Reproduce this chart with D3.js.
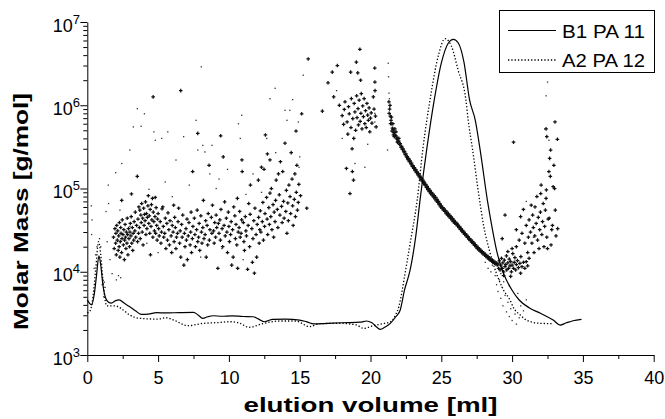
<!DOCTYPE html>
<html>
<head>
<meta charset="utf-8">
<script src="https://cdn.jsdelivr.net/npm/d3@7/dist/d3.min.js"></script>
<style>
  body { margin: 0; background: #fff; }
  svg { display: block; font-family: "Liberation Sans", Arial, sans-serif; }
  .axis path, .axis line { stroke: #000; stroke-width: 1; }
  .axis text { font-size: 18px; fill: #000; }
</style>
</head>
<body>
<svg id="chart" width="665" height="419"></svg>
<script>
// elution volume [ml] vs molar mass [g/mol]
var xMajor = [0, 5, 10, 15, 20, 25, 30, 35, 40];
var xMinor = [2.5, 7.5, 12.5, 17.5, 22.5, 27.5, 32.5, 37.5];
var yMajor = [1e3, 1e4, 1e5, 1e6, 1e7];
var seriesNames = ["B1 PA 11", "A2 PA 12"];

// detector trace, B1 PA 11 (solid)
var b1Line = [[0,4600],[0.15,4200],[0.3,4000],[0.5,5500],[0.65,9000],[0.82,15500],[0.95,12000],[1.1,7000],
  [1.3,4800],[1.5,4300],[1.7,4200],[2.0,4500],[2.25,4600],[2.6,4200],[3.0,3800],[3.4,3400],[3.8,3080],
  [4.3,3100],[4.9,3220],[5.5,3200],[6.5,3230],[7.5,3250],[7.8,3050],[8.15,2760],[8.5,2880],[8.9,2960],
  [9.5,2920],[10.2,2950],[11,2900],[11.7,2880],[12.1,2700],[12.5,2510],[13.1,2680],[14,2700],[15,2630],
  [15.5,2500],[16,2360],[17,2400],[18,2440],[19.3,2480],[19.7,2560],[20.1,2440],[20.45,2150],[20.7,2030],
  [21.0,2150],[21.4,2400],[21.8,2900],[22.1,3470],[22.4,6000],[22.8,10500],[23.2,27000],[23.5,73000],
  [24.0,320000],[24.5,1.15e6],[25.0,3.2e6],[25.5,5.6e6],[25.85,6.2e6],[26.2,5.6e6],[26.6,3.3e6],
  [27.0,1.15e6],[27.4,6.6e5],[27.8,2.5e5],[28.25,7.3e4],[28.6,3.3e4],[28.9,1.82e4],[29.3,1.05e4],
  [29.6,7960],[30.0,6000],[30.5,4580],[31.2,3700],[32.0,3170],[32.9,2630],[33.4,2290],[33.8,2420],
  [34.3,2580],[34.9,2680]];

// detector trace, A2 PA 12 (dotted)
var a2Line = [[0,3200],[0.2,3400],[0.4,5000],[0.6,11000],[0.8,23000],[0.95,16000],[1.1,8000],[1.37,3900],
  [1.7,3900],[2.1,3850],[2.5,3500],[3.0,3020],[3.7,2760],[4.9,2700],[5.6,2800],[6.1,2630],[7.1,2250],
  [8.2,2400],[9.2,2450],[10.1,2510],[10.8,2400],[11.4,2150],[12.4,2380],[13.6,2560],[14.7,2560],
  [15.7,2190],[16.4,2380],[17.8,2400],[19.0,2300],[19.5,2090],[20.2,2250],[21.0,2400],[21.4,2500],
  [21.8,3100],[22.0,3800],[22.2,5500],[22.4,8700],[22.8,2.2e4],[23.3,7.3e4],[23.7,3e5],[24.2,1.15e6],
  [24.8,4.0e6],[25.26,6.3e6],[25.7,5.2e6],[26.2,2.6e6],[26.74,1.15e6],[26.9,6.6e5],[27.2,3e5],
  [27.7,7.3e4],[28.0,3.5e4],[28.4,1.8e4],[28.9,9500],[29.4,6000],[29.85,4580],[30.1,3700],[30.6,3000],
  [31.0,2630],[32.0,2400],[32.9,2380]];

// molar mass points (crosses), low elution region
var massCloud = [[1.85,2.6e4],[1.9,1.9e4],[1.95,3.3e4],[2.0,2.2e4],[2.02,2.9e4],[2.05,1.6e4],[2.08,3.6e4],
  [2.12,2.4e4],[2.15,3.1e4],[2.18,1.8e4],[2.22,2.7e4],[2.25,2.0e4],[2.27,3.9e4],[2.3,1.5e4],[2.33,2.3e4],
  [2.36,3.4e4],[2.38,2.9e4],[2.42,1.7e4],[2.45,2.5e4],[2.47,4.2e4],[2.43,7.2e4],[2.52,2.8e4],[2.55,2.1e4],
  [2.58,3.2e4],[2.62,1.4e4],[2.64,2.4e4],[2.67,3.7e4],[2.7,2.6e4],[2.73,1.9e4],[2.76,3.0e4],[2.8,2.2e4],
  [2.82,4.4e4],[2.85,2.8e4],[2.87,1.6e4],[2.91,3.3e4],[2.94,2.5e4],[2.98,2.0e4],[3.01,3.0e4],[3.04,3.8e4],
  [3.08,2.7e4],[3.1,4.6e4],[3.12,8.6e4],[3.14,2.2e4],[3.18,3.4e4],[3.21,1.8e4],[3.24,2.9e4],[3.28,2.4e4],
  [3.31,4.0e4],[3.36,3.1e4],[3.39,5.2e4],[3.42,2.6e4],[3.48,3.6e4],[3.53,1.4e5],[3.55,2.3e4],[3.58,4.3e4],
  [3.62,2.9e4],[3.64,6.0e4],[3.68,3.4e4],[3.71,5.5e4],[3.74,2.5e4],[3.78,4.8e4],[3.81,3.9e4],[3.84,6.6e4],
  [3.88,3.0e4],[3.91,4.4e4],[3.94,2.1e4],[3.98,5.8e4],[4.01,3.6e4],[4.04,4.9e4],[4.08,4.1e4],[4.11,6.9e4],
  [4.14,2.8e4],[4.18,5.0e4],[4.21,3.3e4],[4.24,4.5e4],[4.28,6.2e4],[4.31,8.2e4],[4.34,3.8e4],[4.38,4.7e4],
  [4.41,2.9e4],[4.44,5.6e4],[4.46,1.6e4],[4.5,3.5e4],[4.53,6.4e4],[4.56,4.2e4],[4.6,7.6e4],[4.63,2.6e4],
  [4.66,5.2e4],[4.7,4.0e4],[4.74,3.1e4],[4.78,4.6e4],[4.8,7.8e4],[4.83,2.9e4],[4.86,5.9e4],[4.9,3.6e4],
  [4.93,2.4e4],[4.96,4.3e4],[5.0,5.0e4],[5.04,3.3e4],[5.08,2.7e4],[5.15,4.0e4],[5.2,2.2e4],[5.24,3.0e4],
  [5.28,5.7e4],[5.33,6.0e4],[5.37,3.5e4],[5.4,2.6e4],[5.47,2.9e4],[5.51,4.4e4],[5.55,1.9e4],[5.62,3.8e4],
  [5.66,2.4e4],[5.7,5.1e4],[5.76,3.2e4],[5.8,2.1e4],[5.84,4.1e4],[5.92,2.7e4],[5.96,1.7e4],[6.0,3.6e4],
  [6.06,3.0e4],[6.1,6.3e4],[6.13,2.3e4],[6.17,4.5e4],[6.22,3.4e4],[6.26,1.9e4],[6.3,2.6e4],[6.37,2.9e4],
  [6.41,4.0e4],[6.45,5.8e4],[6.52,2.2e4],[6.56,3.1e4],[6.6,1.5e4],[6.66,3.7e4],[6.7,2.6e4],[6.74,4.8e4],
  [6.82,1.2e4],[6.86,2.9e4],[6.9,2.0e4],[6.97,3.3e4],[7.0,2.4e4],[7.04,4.3e4],[7.07,1.4e4],[7.13,2.7e4],
  [7.18,3.9e4],[7.26,2.1e4],[7.3,3.0e4],[7.33,5.2e4],[7.36,1.7e4],[7.42,2.5e4],[7.46,3.5e4],[7.44,1.6e5],
  [7.56,4.4e4],[7.6,2.8e4],[7.64,2.0e4],[7.72,3.2e4],[7.76,5.5e4],[7.8,2.3e4],[7.86,2.6e4],[7.9,3.8e4],
  [7.94,1.8e4],[8.02,4.7e4],[8.06,3.0e4],[8.1,2.2e4],[8.16,3.4e4],[8.2,7.2e4],[8.24,2.5e4],[8.32,2.8e4],
  [8.36,4.1e4],[8.4,1.5e4],[8.46,3.6e4],[8.5,2.1e4],[8.54,5.0e4],[8.62,2.4e4],[8.66,3.2e4],[8.6,1.9e5],
  [8.76,4.5e4],[8.8,2.9e4],[8.84,6.3e4],[8.92,3.1e4],[8.96,2.2e4],[9.0,3.9e4],[9.06,2.6e4],[9.1,4.8e4],
  [9.14,3.4e4],[9.22,1.1e4],[9.26,3.8e4],[9.3,2.9e4],[9.36,4.2e4],[9.4,2.4e4],[9.44,5.6e4],[9.52,3.3e4],
  [9.56,2.0e4],[9.6,2.4e5],[9.66,3.6e4],[9.7,6.9e4],[9.74,2.7e4],[9.82,4.4e4],[9.86,3.0e4],[9.9,1.7e4],
  [9.96,5.2e4],[10.0,3.5e4],[10.04,2.3e4],[10.12,2.8e4],[10.16,4.0e4],[10.2,1.2e4],[10.26,3.2e4],
  [10.3,1.5e4],[10.34,6.0e4],[10.42,4.7e4],[10.46,2.5e4],[10.5,3.7e4],[10.56,2.1e4],[10.6,7.6e4],
  [10.62,1.1e4],[10.66,3.0e4],[10.72,3.4e4],[10.76,5.3e4],[10.8,2.6e4],[10.86,2.9e4],[10.9,4.2e4],
  [10.92,2.2e5],[10.94,1.6e5],[11.02,3.9e4],[11.06,2.3e4],[11.1,1.8e4],[11.16,4.6e4],[11.2,3.1e4],
  [11.24,2.7e4],[11.32,1.07e4],[11.36,3.6e4],[11.4,6.6e4],[11.46,2.0e4],[11.5,4.9e4],[11.52,1.1e5],
  [11.62,3.3e4],[11.66,1.3e4],[11.7,2.5e4],[11.76,4.1e4],[11.8,9.6e3],[11.84,5.8e4],[11.92,2.8e4],
  [11.96,1.5e4],[12.0,3.7e4],[12.08,1.26e5],[12.1,4.5e4],[12.14,2.2e4],[12.18,3.2e4],[12.22,5.4e4],
  [12.26,3.0e4],[12.3,1.8e5],[12.36,4.0e4],[12.4,6.8e4],[12.44,2.4e4],[12.48,1.7e5],[12.52,3.5e4],
  [12.55,5.0e4],[12.58,4.4e5],[12.66,7.8e4],[12.7,4.3e4],[12.74,2.8e4],[12.72,2.6e5],[12.82,5.9e4],
  [12.86,3.7e4],[12.9,8.8e4],[12.96,4.6e4],[13.0,1.0e5],[13.04,3.2e4],[13.12,6.4e4],[13.16,2.6e4],
  [13.2,5.2e4],[13.26,4.0e4],[13.3,7.2e4],[13.34,1.26e5],[13.42,5.6e4],[13.46,3.4e4],[13.5,1.5e5],
  [13.56,8.4e4],[13.6,4.8e4],[13.64,2.1e5],[13.72,6.1e4],[13.76,3.9e4],[13.8,1.6e5],[13.86,7.0e4],
  [13.9,4.4e4],[13.96,3.5e5],[14.02,5.3e4],[14.06,9.5e4],[14.1,2.9e4],[14.16,6.7e4],[14.2,4.1e4],
  [14.24,1.1e5],[14.32,8.0e4],[14.36,5.0e4],[14.4,2.7e5],[14.46,1.3e5],[14.5,6.2e4],[14.54,3.6e4],
  [14.62,7.4e4],[14.66,1.5e5],[14.7,4.6e4],[14.76,9.0e4],[14.8,1.9e5],[14.84,5.5e4],[14.9,6.8e4],
  [14.94,1.12e5],[14.74,4.9e5],[15.06,8.2e4],[15.14,7.9e5],[15.5,5.8e4],[15.6,3.6e6],
  [4.65,1.26e6],[6.6,1.5e6],[9.42,4.3e5],[7.8,4.6e5],[12.9,2.2e5]];

// crosses, 16.5 - 20.5 ml
var massCluster = [[16.6,8.5e5],[17.0,1.86e6],[17.3,2.5e6],[17.4,1.26e6],[17.66,3.0e6],[17.8,1.0e6],
  [18.0,7.5e5],[18.1,5.9e5],[18.15,8.9e5],[18.2,1.1e6],[18.3,1.74e5],[18.35,6.3e5],[18.4,4.5e5],
  [18.45,9.6e5],[18.5,7.9e5],[18.55,8.7e4],[18.6,2.5e6],[18.62,5.4e5],[18.65,1.2e6],[18.7,3.0e5],
  [18.72,1.6e5],[18.75,6.9e5],[18.8,1.26e5],[18.82,4.0e5],[18.85,1.05e6],[18.9,8.3e5],[18.95,5.0e5],
  [19.0,3.3e6],[19.02,1.3e6],[19.05,7.1e5],[19.1,2.45e6],[19.12,9.1e5],[19.15,5.8e5],[19.2,1.15e6],
  [19.25,4.7e6],[19.27,6.4e5],[19.3,2.0e6],[19.32,8.0e5],[19.35,1.38e6],[19.4,5.2e5],[19.45,9.8e5],
  [19.5,7.3e5],[19.55,1.2e6],[19.6,6.0e5],[19.65,8.6e5],[19.7,5.4e5],[19.75,1.05e6],[19.8,7.6e5],
  [19.85,6.6e5],[19.9,9.3e5],[19.95,4.8e5],[20.0,7.0e5],[20.05,8.1e5],[20.1,6.1e5],[20.2,1.26e6],
  [20.25,9.0e5],[20.3,2.8e6],[20.31,1.9e6],[20.32,1.5e6],[20.35,7.4e5],[20.4,5.5e5]];

// crosses, main calibration band 21.3 - 29 ml
var massBand = [[21.3,1.1e6],[21.32,8.0e5],[21.38,1.0e6],[21.42,6.0e5],[21.48,7.2e5],[21.52,4.9e5],
  [21.58,6.0e5],[21.62,4.4e5],[21.72,5.2e5],[21.68,4.2e5],[21.8,4.8e5],[21.9,3.6e5],[22.0,4.0e5],
  [21.35,9.0e5],[21.4,7.4e5],[21.45,6.6e5],[21.5,6.0e5],[21.55,5.3e5],[21.6,5.1e5],[21.65,4.7e5],
  [21.7,4.7e5],[21.75,4.3e5],[21.8,4.3e5],[21.85,3.95e5],[21.9,4.0e5],[21.95,3.65e5],[22.0,3.7e5],
  [22.05,3.4e5],[22.1,3.45e5],[22.15,3.15e5],[22.2,3.2e5],[22.25,2.95e5],[22.3,3.0e5],[22.35,2.75e5],
  [22.4,2.8e5],[22.45,2.55e5],[22.5,2.6e5],[22.55,2.38e5],[22.6,2.42e5],[22.65,2.22e5],[22.7,2.28e5],
  [22.75,2.1e5],[22.8,2.15e5],[22.85,1.97e5],[22.9,2.02e5],[22.95,1.85e5],[23.0,1.88e5],[23.05,1.74e5],
  [23.1,1.78e5],[23.15,1.64e5],[23.2,1.68e5],[23.25,1.55e5],[23.3,1.58e5],[23.35,1.46e5],[23.4,1.5e5],
  [23.45,1.38e5],[23.5,1.41e5],[23.55,1.3e5],[23.6,1.33e5],[23.65,1.23e5],[23.7,1.26e5],[23.75,1.16e5],
  [23.8,1.19e5],[23.85,1.1e5],[23.9,1.12e5],[23.95,1.03e5],[24.0,1.06e5],[24.05,9.7e4],[24.1,1.0e5],
  [24.15,9.2e4],[24.2,9.5e4],[24.25,8.7e4],[24.3,9.0e4],[24.35,8.3e4],[24.4,8.6e4],[24.45,7.9e4],
  [24.5,8.2e4],[24.55,7.5e4],[24.6,7.8e4],[24.65,7.1e4],[24.7,7.4e4],[24.75,6.8e4],[24.8,7.0e4],
  [24.85,6.4e4],[24.9,6.6e4],[24.95,6.0e4],[25.0,6.2e4],[25.05,5.8e4],[25.1,5.9e4],[25.15,5.5e4],
  [25.2,5.7e4],[25.25,5.3e4],[25.3,5.4e4],[25.35,5.0e4],[25.4,5.2e4],[25.45,4.8e4],[25.5,4.95e4],
  [25.55,4.6e4],[25.6,4.75e4],[25.65,4.4e4],[25.7,4.55e4],[25.75,4.2e4],[25.8,4.35e4],[25.85,4.0e4],
  [25.9,4.15e4],[25.95,3.85e4],[26.0,3.95e4],[26.05,3.7e4],[26.1,3.8e4],[26.15,3.55e4],[26.2,3.62e4],
  [26.25,3.38e4],[26.3,3.45e4],[26.35,3.22e4],[26.4,3.3e4],[26.45,3.08e4],[26.5,3.15e4],[26.55,2.95e4],
  [26.6,3.0e4],[26.65,2.82e4],[26.7,2.88e4],[26.75,2.7e4],[26.8,2.75e4],[26.85,2.58e4],[26.9,2.62e4],
  [26.95,2.46e4],[27.0,2.5e4],[27.05,2.36e4],[27.1,2.4e4],[27.15,2.27e4],[27.2,2.32e4],[27.25,2.18e4],
  [27.3,2.22e4],[27.35,2.08e4],[27.4,2.12e4],[27.45,1.99e4],[27.5,2.03e4],[27.55,1.9e4],[27.6,1.95e4],
  [27.65,1.83e4],[27.7,1.88e4],[27.75,1.77e4],[27.8,1.8e4],[27.85,1.7e4],[27.9,1.74e4],[27.95,1.64e4],
  [28.0,1.68e4],[28.05,1.59e4],[28.1,1.62e4],[28.15,1.53e4],[28.2,1.57e4],[28.25,1.48e4],[28.3,1.52e4],
  [28.35,1.43e4],[28.4,1.46e4],[28.45,1.38e4],[28.5,1.42e4],[28.55,1.34e4],[28.6,1.38e4],[28.65,1.3e4],
  [28.7,1.34e4],[28.75,1.27e4],[28.8,1.3e4],[28.85,1.24e4],[28.9,1.27e4],[28.95,1.21e4],[29.0,1.24e4]];

// crosses, high elution tail 29 - 33.3 ml
var massTail = [[29.05,1.1e4],[29.1,1.35e4],[29.15,1.05e4],[29.2,1.2e4],[29.25,1.45e4],[29.3,1.1e4],
  [29.35,1.28e4],[29.4,1.0e4],[29.45,1.38e4],[29.5,1.15e4],[29.55,1.22e4],[29.6,1.55e4],[29.62,1.05e4],
  [29.7,1.28e4],[29.75,1.1e4],[29.8,1.42e4],[29.85,1.18e4],[29.9,1.32e4],[29.95,1.0e4],[30.0,1.2e4],
  [30.05,1.65e4],[30.1,1.1e4],[30.15,1.3e4],[30.2,1.48e4],[30.25,1.05e4],[30.3,1.22e4],[30.38,1.36e4],
  [30.45,1.12e4],[30.55,1.26e4],[30.62,1.52e4],[30.7,1.15e4],[30.8,1.3e4],[30.9,1.1e4],[31.0,1.32e4],
  [31.1,1.18e4],[31.2,1.45e4],[30.0,1.9e4],[29.7,1.75e4],[30.3,2.0e4],[29.4,9.0e3],[30.6,9.6e3],
  [29.9,8.8e3],[29.3,2.5e4],[29.5,4.8e4],[30.1,3.6e5],[30.3,3.2e4],[30.5,2.4e4],[30.6,4.6e4],
  [30.7,2.9e4],[30.8,5.6e4],[30.9,2.2e4],[31.0,3.6e4],[31.1,1.7e4],[31.15,2.6e4],[31.2,4.2e4],
  [31.3,3.0e4],[31.35,6.3e4],[31.4,2.2e4],[31.45,4.8e4],[31.5,3.4e4],[31.55,1.7e4],[31.6,2.7e4],
  [31.62,6.0e4],[31.7,3.8e4],[31.75,8.0e4],[31.8,2.4e4],[31.85,4.5e4],[31.9,1.9e4],[31.95,3.2e4],
  [32.0,5.2e4],[32.02,8.7e4],[32.05,1.1e5],[32.1,2.8e4],[32.15,4.0e4],[32.2,6.6e4],[32.25,2.0e4],
  [32.3,3.5e4],[32.35,5.5e4],[32.4,7.6e4],[32.42,9.6e4],[32.45,2.6e4],[32.5,1.9e4],[32.55,4.3e4],
  [32.6,1.6e5],[32.62,4.4e4],[32.65,2.3e5],[32.7,1.4e5],[32.72,2.9e5],[32.75,2.1e4],[32.8,3.2e4],
  [32.85,3.6e4],[32.9,1.05e5],[32.95,1.9e5],[33.0,1.0e5],[33.03,6.3e5],[33.05,5.5e4],[33.1,2.7e4],
  [33.2,3.9e5],[33.22,3.3e4],[32.4,5.2e5],[32.45,4.2e5]];

// sparse molar mass points (small dots)
var massDots = [[0.28,6.2e4],[0.33,4.2e4],[0.3,2.8e4],[0.48,1.1e4],[0.58,1.6e4],[0.68,2.0e4],[0.86,2.5e4],
  [0.95,2.0e4],[1.05,7.0e3],[1.15,5.0e3],[1.25,6.5e3],[1.32,5.3e4],[1.4,2.3e4],[1.5,6.6e4],[1.48,1.1e5],
  [1.1,8.0e3],[1.2,7.5e3],[1.6,1.4e4],[1.75,9.5e3],[2.0,1.55e5],[2.05,8.0e3],[2.2,9.0e3],[2.35,8.5e3],
  [2.3,5.5e4],[2.43,2.0e5],[3.0,2.9e5],[3.25,5.5e5],[3.53,9.1e5],[3.8,5.6e5],[4.03,7.9e5],[4.35,9.8e4],
  [4.7,4.8e5],[4.8,3.8e5],[5.25,4.0e5],[5.68,4.8e5],[6.26,2.2e5],[6.8,4.2e5],[7.68,6.6e5],[7.8,2.9e5],
  [8.05,2.9e6],[8.15,3.3e5],[8.3,2.75e5],[8.65,1.5e5],[8.8,3.3e5],[9.1,1.0e5],[9.9,1.7e5],[10.67,6.0e5],
  [10.9,7.6e5],[10.8,4.0e5],[11.2,8.5e4],[12.9,1.2e6],[13.26,1.6e6],[13.96,8.7e5],[14.1,6.6e5],
  [14.3,8.7e5],[14.5,1.17e6],[14.9,6.3e5],[15.0,2.4e5],[14.95,1.8e5],[15.25,2.3e6],[12.67,4.0e5],
  [13.3,2.7e5],[6.0,8.0e4],[7.2,1.1e5],[5.5,1.2e5],[9.3,1.3e5],[11.7,1.5e5],[12.3,9.0e4],[3.0,3.5e4],
  [4.2,2.2e4],[6.0,4.0e4],[8.0,1.5e4],[5.0,1.7e4],[9.5,1.9e4],[11.0,1.4e4],
  [17.6,1.5e6],[18.0,4.0e5],[18.9,2.0e5],[19.6,1.8e5],[19.8,3.4e5],[20.3,8.0e5],[20.3,6.3e5],
  [20.32,5.5e5],[21.25,3.2e6],[21.27,2.2e6],[21.3,1.4e6],[21.33,1.2e6],[21.2,2.9e5],[21.35,9.5e5],
  [28.1,1.3e4],[28.3,1.1e4],[28.5,1.0e4],[28.6,1.2e4],[28.8,9.0e3],[28.9,7.0e3],[29.0,5.8e3],
  [29.1,8.0e3],[29.2,4.8e3],[29.3,6.5e3],[29.35,3.9e3],[29.5,5.2e3],[29.6,3.3e3],[29.7,4.3e3],
  [29.8,2.9e3],[29.9,3.6e3],[30.0,2.6e3],[30.2,3.1e3],[30.3,2.35e3],[30.5,2.8e3],[30.6,3.9e3],
  [30.8,3.4e3],[31.0,4.6e3],[29.2,9.5e3],[29.4,7.6e3],[29.8,6.8e3],[30.4,5.5e3],
  [32.5,1.9e6],[32.4,1.3e6],[32.3,5.2e5],[32.6,3.8e5],[31.5,2.6e4],[31.0,7.0e4]];

var svg = d3.select("#chart");

var x = d3.scaleLinear().domain([0, 40]).range([87.3, 653.7]);
var y = d3.scaleLog().domain([1e3, 1e7]).range([355, 22]);

// minor ticks on the log axis: 2..9 x 10^k
var yMinor = [];
yMajor.slice(0, -1).forEach(function (p) {
  d3.range(2, 10).forEach(function (m) { yMinor.push(m * p); });
});

svg.append("g")
  .attr("class", "axis")
  .attr("transform", "translate(0,355)")
  .call(d3.axisBottom(x).tickValues(xMinor).tickSize(4).tickFormat(""))
  .select(".domain").remove();

svg.append("g")
  .attr("class", "axis")
  .attr("transform", "translate(0,355)")
  .call(d3.axisBottom(x).tickValues(xMajor).tickSize(7).tickSizeOuter(0).tickPadding(9).tickFormat(d3.format("d")));

svg.append("g")
  .attr("class", "axis")
  .attr("transform", "translate(87.3,0)")
  .call(d3.axisLeft(y).tickValues(yMinor).tickSize(4).tickFormat(""))
  .select(".domain").remove();

svg.append("g")
  .attr("class", "axis")
  .attr("transform", "translate(87.3,0)")
  .call(d3.axisLeft(y).tickValues(yMajor).tickSize(7).tickSizeOuter(0).tickFormat(""));

yMajor.forEach(function (v) {
  var t = svg.append("text")
    .attr("x", 80)
    .attr("y", y(v) + 9.5)
    .attr("text-anchor", "end")
    .style("font-size", "18px");
  t.append("tspan").text("10");
  t.append("tspan").attr("dy", -8).style("font-size", "13px").text(Math.round(Math.log10(v)));
});

// scatter: crosses
var crossPath = "M-1.8,0H1.8M0,-1.8V1.8";
var crosses = massCloud.concat(massCluster, massBand, massTail);
svg.append("g").selectAll("path")
  .data(crosses)
  .enter().append("path")
  .attr("transform", function (d) { return "translate(" + x(d[0]) + "," + y(d[1]) + ")"; })
  .attr("d", crossPath)
  .attr("stroke", "#111")
  .attr("stroke-width", 1.25)
  .attr("fill", "none");

svg.append("g").selectAll("rect")
  .data(massDots)
  .enter().append("rect")
  .attr("x", function (d) { return x(d[0]) - 0.6; })
  .attr("y", function (d) { return y(d[1]) - 0.6; })
  .attr("width", 1.3)
  .attr("height", 1.3)
  .attr("fill", "#333");

var line = d3.line()
  .curve(d3.curveMonotoneX)
  .x(function (d) { return x(d[0]); })
  .y(function (d) { return y(d[1]); });

svg.append("path").datum(a2Line)
  .attr("d", line)
  .attr("fill", "none")
  .attr("stroke", "#000")
  .attr("stroke-width", 1.3)
  .attr("stroke-dasharray", "1.3,2");

svg.append("path").datum(b1Line)
  .attr("d", line)
  .attr("fill", "none")
  .attr("stroke", "#000")
  .attr("stroke-width", 1.2);

// legend
var legend = svg.append("g");
legend.append("rect")
  .attr("x", 499.5).attr("y", 10.5).attr("width", 155).attr("height", 62)
  .attr("fill", "#fff").attr("stroke", "#000").attr("stroke-width", 1);
seriesNames.forEach(function (name, i) {
  var ly = 30.5 + i * 29.5;
  legend.append("line")
    .attr("x1", 508).attr("x2", 556).attr("y1", ly).attr("y2", ly)
    .attr("stroke", "#000")
    .attr("stroke-width", i === 0 ? 1.2 : 1.3)
    .attr("stroke-dasharray", i === 0 ? null : "1.3,2");
  legend.append("text")
    .attr("x", 562).attr("y", ly + 7)
    .style("font-size", "18px")
    .attr("textLength", 83)
    .attr("lengthAdjust", "spacingAndGlyphs")
    .text(name);
});

svg.append("text")
  .attr("x", 370.5).attr("y", 412)
  .attr("text-anchor", "middle")
  .attr("textLength", 254)
  .attr("lengthAdjust", "spacingAndGlyphs")
  .style("font-size", "21px").style("font-weight", "bold")
  .text("elution volume [ml]");

svg.append("text")
  .attr("transform", "translate(28,211.5) rotate(-90)")
  .attr("text-anchor", "middle")
  .attr("textLength", 237)
  .attr("lengthAdjust", "spacingAndGlyphs")
  .style("font-size", "21px").style("font-weight", "bold")
  .text("Molar Mass [g/mol]");
</script>
</body>
</html>
